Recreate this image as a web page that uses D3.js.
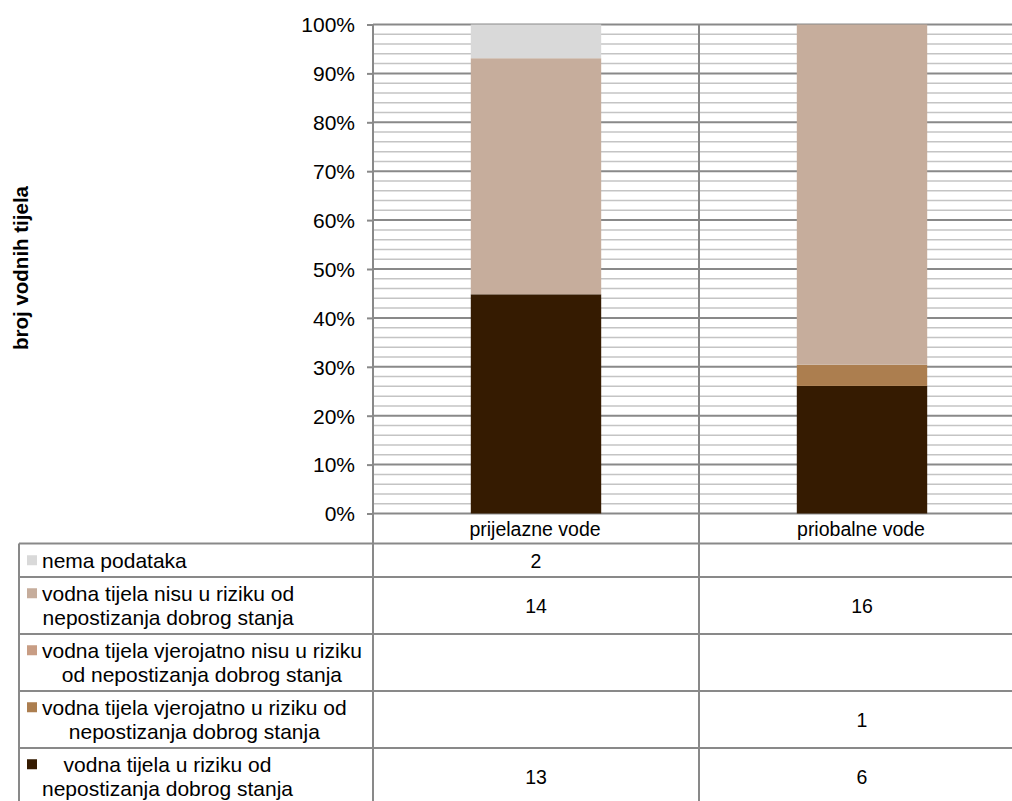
<!DOCTYPE html>
<html>
<head>
<meta charset="utf-8">
<script src="https://cdn.jsdelivr.net/npm/d3@7"></script>
<style>
body { margin: 0; background: #fff; }
text { font-family: "Liberation Sans", Arial, sans-serif; fill: #000; }
</style>
</head>
<body>
<svg id="chart" width="1012" height="801"></svg>
<script>
// categories and series (values = number of water bodies)
var categories = ["prijelazne vode", "priobalne vode"];
var seriesKeys = ["nema", "nisu", "vjerNisu", "vjerU", "uRiziku"];
var nema = [2, null];
var nisu = [14, 16];
var vjerNisu = [null, null];
var vjerU = [null, 1];
var uRiziku = [13, 6];
var seriesLabels = [
	["nema podataka"],
	["vodna tijela nisu u riziku od", "nepostizanja dobrog stanja"],
	["vodna tijela vjerojatno nisu u riziku", "od nepostizanja dobrog stanja"],
	["vodna tijela vjerojatno u riziku od", "nepostizanja dobrog stanja"],
	["vodna tijela u riziku od", "nepostizanja dobrog stanja"]
];
var colori = ["#d9d9d9", "#c6ad9c", "#c89d84", "#ac7e4f", "#351b01"];
var yTicks = [0, 0.1, 0.2, 0.3, 0.4, 0.5, 0.6, 0.7, 0.8, 0.9, 1];

var valori = [nema, nisu, vjerNisu, vjerU, uRiziku];

// build rows for d3.stack
var rows = categories.map(function (c, i) {
	var r = {cat: c};
	seriesKeys.forEach(function (k, j) { r[k] = valori[j][i] || 0; });
	return r;
});

var svg = d3.select("#chart");
var plotLeft = 373, plotTop = 24.5, plotBottom = 513.5;
var tableLeft = 19;
var lineCol = "#898989";

var x = d3.scaleBand()
	.domain(categories)
	.range([plotLeft, 1025]);

var y = d3.scaleLinear()
	.domain([0, 1])
	.range([plotBottom, plotTop]);

// minor gridlines every 2%
var minor = d3.range(0, 1.001, 0.02).filter(function (d) { return Math.round(d * 100) % 10 != 0; });
svg.append("g").selectAll("line").data(minor).enter()
	.append("line")
	.attr("x1", plotLeft).attr("x2", 1012)
	.attr("y1", function (d) { return y(d); })
	.attr("y2", function (d) { return y(d); })
	.attr("stroke", "#c4c4c4")
	.attr("stroke-width", 1.5);

// major gridlines
svg.append("g").selectAll("line").data(yTicks).enter()
	.append("line")
	.attr("x1", plotLeft).attr("x2", 1012)
	.attr("y1", function (d) { return y(d); })
	.attr("y2", function (d) { return y(d); })
	.attr("stroke", lineCol)
	.attr("stroke-width", 2);

// stacked 100% bars (bottom = u riziku)
var stackOrder = seriesKeys.slice().reverse();
var stack = d3.stack().keys(stackOrder).offset(d3.stackOffsetExpand);
var layers = stack(rows);
var bw = x.bandwidth() * 0.4;

svg.append("g").selectAll("g").data(layers).enter()
	.append("g")
	.attr("fill", function (d) { return colori[seriesKeys.indexOf(d.key)]; })
	.selectAll("rect").data(function (d) { return d; }).enter()
	.append("rect")
	.attr("x", function (d) { return x(d.data.cat) + (x.bandwidth() - bw) / 2; })
	.attr("y", function (d) { return y(d[1]); })
	.attr("height", function (d) { return y(d[0]) - y(d[1]); })
	.attr("width", bw);

// y axis
var yAxis = svg.append("g")
	.attr("transform", "translate(" + plotLeft + ",0)")
	.call(d3.axisLeft(y).tickValues(yTicks).tickFormat(d3.format(".0%")).tickSize(6).tickPadding(12));
yAxis.select(".domain").remove();
yAxis.selectAll(".tick line").attr("stroke", lineCol).attr("stroke-width", 2);
yAxis.selectAll(".tick text").style("font-size", "21px").attr("dy", "0.35em");

svg.append("text")
	.attr("transform", "translate(28,268) rotate(-90)")
	.attr("text-anchor", "middle")
	.style("font-size", "20.5px")
	.style("font-weight", "bold")
	.text("broj vodnih tijela");

// data table
var rowH = [30, 33.5, 57, 57, 57, 57];
var rowTop = [plotBottom];
rowH.forEach(function (h, i) { rowTop.push(rowTop[i] + h); });

var table = svg.append("g");
// horizontal lines
table.selectAll("line.h").data(rowTop.slice(1)).enter()
	.append("line")
	.attr("x1", tableLeft).attr("x2", 1012)
	.attr("y1", function (d) { return d; }).attr("y2", function (d) { return d; })
	.attr("stroke", lineCol).attr("stroke-width", 2);
// vertical lines
table.append("line")
	.attr("x1", tableLeft).attr("x2", tableLeft)
	.attr("y1", rowTop[1]).attr("y2", 801)
	.attr("stroke", lineCol).attr("stroke-width", 2);
var vlines = [plotLeft, x(categories[1])];
table.selectAll("line.v").data(vlines).enter()
	.append("line")
	.attr("x1", function (d) { return d; }).attr("x2", function (d) { return d; })
	.attr("y1", plotTop).attr("y2", 801)
	.attr("stroke", lineCol).attr("stroke-width", 2);

// category labels
table.selectAll("text.cat").data(categories).enter()
	.append("text")
	.attr("x", function (d) { return x(d) + x.bandwidth() / 2 - 1; })
	.attr("y", rowTop[0] + rowH[0] / 2 + 1)
	.attr("dy", "0.35em")
	.attr("text-anchor", "middle")
	.style("font-size", "19.5px")
	.text(function (d) { return d; });

// legend cells + values
seriesKeys.forEach(function (k, j) {
	var r0 = rowTop[j + 1], h = rowH[j + 1];
	var lines = seriesLabels[j];
	var lh = 24.5;
	var y0 = r0 + h / 2 - (lines.length - 1) * lh / 2;
	var g = table.append("g");
	var txt = g.selectAll("text").data(lines).enter()
		.append("text")
		.attr("y", function (d, i) { return y0 + i * lh; })
		.attr("dy", "0.35em")
		.attr("text-anchor", "middle")
		.style("font-size", "21px")
		.text(function (d) { return d; });
	var maxW = 0;
	txt.each(function () { maxW = Math.max(maxW, this.getComputedTextLength()); });
	txt.attr("x", 42 + maxW / 2);
	g.append("rect")
		.attr("x", 27).attr("y", y0 - 5)
		.attr("width", 10).attr("height", 10)
		.attr("fill", colori[j]);

	var cells = valori[j].map(function (v, i) { return {v: v, cat: categories[i]}; })
		.filter(function (d) { return d.v != null; });
	table.selectAll(null).data(cells).enter()
		.append("text")
		.attr("x", function (d) { return x(d.cat) + x.bandwidth() / 2; })
		.attr("y", r0 + h / 2 + 1)
		.attr("dy", "0.35em")
		.attr("text-anchor", "middle")
		.style("font-size", "19.5px")
		.text(function (d) { return d.v; });
});
</script>
</body>
</html>
